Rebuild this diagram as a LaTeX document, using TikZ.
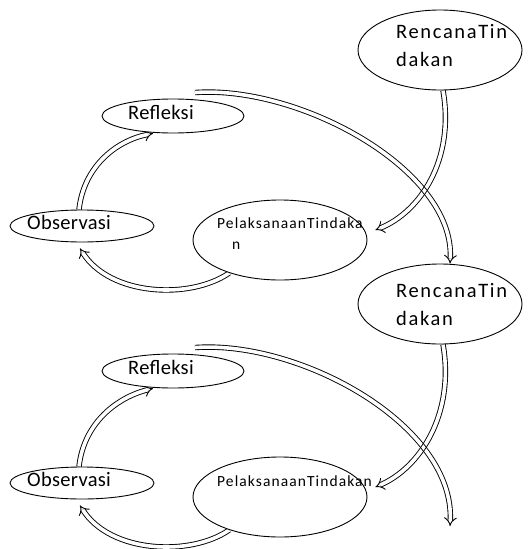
\documentclass[tikz,border=0pt]{standalone}
\usepackage{fontspec}
\setmainfont{Carlito}
\newfontfamily\bigfam[LetterSpace=1.5]{Carlito}
\newfontfamily\rtfam[LetterSpace=8]{Carlito}
\newfontfamily\smallfam[LetterSpace=7]{Carlito}
\usetikzlibrary{arrows.meta,shapes.geometric}
\pgfdeclarelayer{bg}
\pgfsetlayers{bg,main}
\tikzset{
  oval/.style={ellipse,draw=black,line width=0.9pt,fill=white,inner sep=0pt},
  bigtxt/.style={font=\bigfam\fontsize{20.5}{28}\selectfont,inner sep=0pt,align=left,anchor=west},
  rttxt/.style={font=\rtfam\fontsize{20.5}{28}\selectfont,inner sep=0pt,align=left,anchor=west},
  smalltxt/.style={font=\smallfam\fontsize{15.5}{21}\selectfont,inner sep=0pt,align=left,anchor=north west},
  dblarrow/.style={draw=black,double=white,double distance=3.6pt,line width=0.9pt,-{Implies[scale=1.8]}}
}
\begin{document}
\begin{tikzpicture}[x=1pt,y=-1pt]
\useasboundingbox (0,0) rectangle (528,549);
% ---------- top cycle ----------
\node[oval,minimum width=164pt,minimum height=80pt] (rt1) at (440,50) {};
\node[rttxt] (rt1t) at (396,46) {RencanaTin\\dakan};
\node[oval,minimum width=142pt,minimum height=34pt] (r1) at (173,116) {};
\node[bigtxt] (r1t) at (128,112) {Refleksi};
\node[oval,minimum width=144pt,minimum height=32pt] (o1) at (82,226) {};
\node[bigtxt] (o1t) at (27,222) {Observasi};
\node[oval,minimum width=174pt,minimum height=80pt] (p1) at (280,240) {};
\node[smalltxt] (p1t) at (217,218) {PelaksanaanTindaka\\\hspace*{15pt}n};
% ---------- bottom cycle ----------
\node[oval,minimum width=164pt,minimum height=80pt] (rt2) at (440,304) {};
\node[rttxt] (rt2t) at (396,305) {RencanaTin\\dakan};
\node[oval,minimum width=142pt,minimum height=34pt] (r2) at (173,371) {};
\node[bigtxt] (r2t) at (128,367) {Refleksi};
\node[oval,minimum width=144pt,minimum height=32pt] (o2) at (82,483) {};
\node[bigtxt] (o2t) at (27,479) {Observasi};
\node[oval,minimum width=174pt,minimum height=80pt] (p2) at (280,497) {};
\node[smalltxt] (p2t) at (217,476) {PelaksanaanTindakan};
\coordinate (end2) at (450,526);
% ---------- arrows ----------
\begin{pgfonlayer}{bg}
\draw[dblarrow] ([shift={(22,-6)}]r1.north) .. controls (300,85) and (455,170) .. ([xshift=10pt]rt2.north);
\draw[dblarrow] ([xshift=-3pt]o1.north) .. controls (84,165) and (118,140) .. ([xshift=-20pt]r1.south);
\draw[dblarrow] (p1.213) .. controls (190,300) and (110,296) .. ([shift={(-2,6)}]o1.south);
\draw[dblarrow] ([shift={(22,-6)}]r2.north) .. controls (300,340) and (455,425) .. (end2);
\draw[dblarrow] ([xshift=-3pt]o2.north) .. controls (84,422) and (118,397) .. ([xshift=-20pt]r2.south);
\draw[dblarrow] (p2.213) .. controls (190,557) and (110,553) .. ([shift={(-2,6)}]o2.south);
% see-through crossing arrows
\begin{scope}[blend mode=multiply]
\begin{scope}[transparency group]
\begin{scope}[blend mode=normal]
\draw[dblarrow] ([xshift=3pt]rt1.south) .. controls (455,160) and (420,212) .. ([shift={(8,-10)}]p1.east);
\end{scope}
\end{scope}
\end{scope}
\begin{scope}[blend mode=multiply]
\begin{scope}[transparency group]
\begin{scope}[blend mode=normal]
\draw[dblarrow] ([xshift=3pt]rt2.south) .. controls (455,414) and (420,468) .. ([shift={(8,-10)}]p2.east);
\end{scope}
\end{scope}
\end{scope}
\end{pgfonlayer}
\end{tikzpicture}
\end{document}
